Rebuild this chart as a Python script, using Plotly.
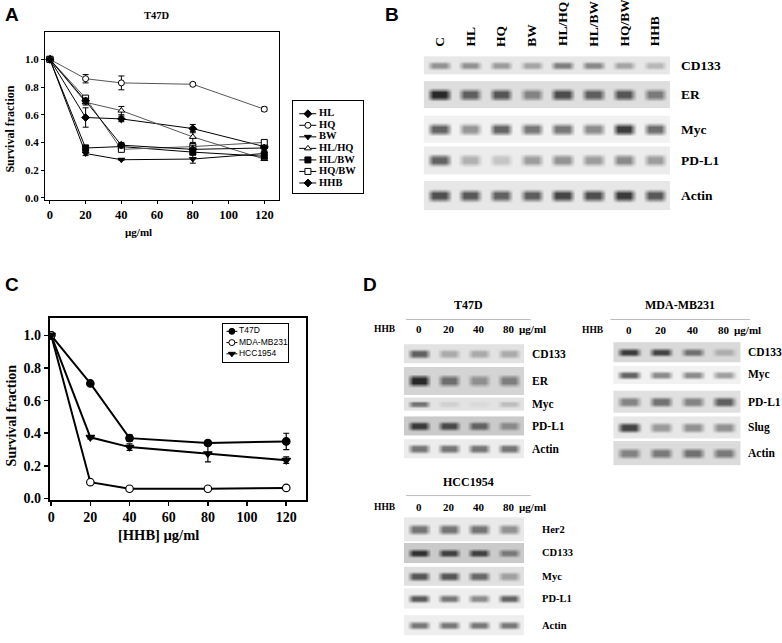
import plotly.graph_objects as go

SERIF = "Liberation Serif"
SANS = "Liberation Sans"

# ---------------- DATA ----------------
doses = [0, 20, 40, 80, 120]

# Panel A (T47D, survival fraction)
a_names = ["HL", "HQ", "BW", "HL/HQ", "HL/BW", "HQ/BW", "HHB"]
a_HL = [1.0, 0.58, 0.57, 0.50, 0.37]
a_HQ = [1.0, 0.86, 0.83, 0.82, 0.64]
a_BW = [1.0, 0.32, 0.275, 0.28, 0.32]
a_HLHQ = [1.0, 0.69, 0.63, 0.44, 0.28]
a_HLBW = [1.0, 0.36, 0.37, 0.33, 0.30]
a_HQBW = [1.0, 0.72, 0.35, 0.37, 0.40]
a_HHB = [1.0, 0.70, 0.38, 0.35, 0.36]
a_HL_err = [0, 0.07, 0.02, 0.03, 0.01]
a_HQ_err = [0, 0.03, 0.05, 0.01, 0.015]
a_BW_err = [0, 0.015, 0.005, 0.03, 0.015]
a_HLHQ_err = [0, 0.02, 0.03, 0.04, 0.01]
a_HLBW_err = [0, 0.02, 0.015, 0.02, 0.015]
a_HQBW_err = [0, 0.015, 0.01, 0.02, 0.015]
a_HHB_err = [0, 0.02, 0.02, 0.03, 0.02]

# Panel C (HHB on three cell lines)
c_names = ["T47D", "MDA-MB231", "HCC1954"]
c_T47D = [1.0, 0.705, 0.37, 0.34, 0.35]
c_MDA = [1.0, 0.10, 0.06, 0.06, 0.065]
c_HCC = [1.0, 0.375, 0.315, 0.275, 0.235]
c_T47D_err = [0, 0.01, 0.02, 0.015, 0.05]
c_MDA_err = [0, 0.005, 0.005, 0.005, 0.005]
c_HCC_err = [0, 0.01, 0.02, 0.05, 0.02]

# Panel B blot (band darkness 0..1 per lane)
b_lanes = ["C", "HL", "HQ", "BW", "HL/HQ", "HL/BW", "HQ/BW", "HHB"]
b_proteins = ["CD133", "ER", "Myc", "PD-L1", "Actin"]
b_bands = [
    [0.45, 0.45, 0.40, 0.35, 0.55, 0.50, 0.35, 0.25],
    [1.00, 0.70, 0.75, 0.50, 0.80, 0.70, 0.75, 0.55],
    [0.70, 0.45, 0.70, 0.60, 0.60, 0.50, 0.90, 0.65],
    [0.70, 0.30, 0.20, 0.40, 0.45, 0.40, 0.50, 0.40],
    [0.80, 0.75, 0.70, 0.72, 0.85, 0.80, 0.90, 0.75],
]
b_bg = [0.10, 0.14, 0.06, 0.08, 0.10]

# Panel D blots
d_doses = ["0", "20", "40", "80"]
d_unit = "µg/ml"
d_t47d_proteins = ["CD133", "ER", "Myc", "PD-L1", "Actin"]
d_t47d_bands = [
    [0.70, 0.30, 0.30, 0.30],
    [1.00, 0.60, 0.40, 0.50],
    [0.60, 0.10, 0.05, 0.20],
    [0.90, 0.80, 0.65, 0.40],
    [0.60, 0.60, 0.60, 0.60],
]
d_t47d_bg = [0.12, 0.18, 0.12, 0.22, 0.08]

d_mda_proteins = ["CD133", "Myc", "PD-L1", "Slug", "Actin"]
d_mda_bands = [
    [0.90, 0.85, 0.60, 0.25],
    [0.70, 0.50, 0.50, 0.40],
    [0.50, 0.60, 0.50, 0.70],
    [0.85, 0.40, 0.45, 0.45],
    [0.50, 0.55, 0.60, 0.55],
]
d_mda_bg = [0.16, 0.06, 0.13, 0.10, 0.15]

d_hcc_proteins = ["Her2", "CD133", "Myc", "PD-L1", "Actin"]
d_hcc_bands = [
    [0.60, 0.60, 0.60, 0.45],
    [0.95, 0.85, 0.85, 0.50],
    [0.75, 0.75, 0.65, 0.35],
    [0.75, 0.60, 0.50, 0.70],
    [0.60, 0.60, 0.60, 0.60],
]
d_hcc_bg = [0.09, 0.22, 0.13, 0.07, 0.07]

# ---------------- LAYOUT GEOMETRY (pixels) ----------------
W, H = 782, 643
B_X = (423, 670)
B_STRIPS = [(57, 75), (82, 109), (117, 144), (148, 176), (183, 212)]
T_X = (403, 523)
T_STRIPS = [(348, 367), (371, 399), (402, 415), (421, 440), (444, 463)]
M_X = (613, 740)
M_STRIPS = [(346, 366), (370, 388), (395, 417), (421, 443), (446, 470)]
HC_X = (403, 523)
HC_STRIPS = [(523, 547), (549, 569), (573, 592), (595, 615), (622, 642)]

fig = go.Figure()

def px_dom_x(a, b):
    return [a / W, b / W]

def px_dom_y(top, bottom):
    return [1 - bottom / H, 1 - top / H]

# ---------------- PANEL A ----------------
a_series = [
    (a_HL, a_HL_err, "diamond", "black", "black"),
    (a_HQ, a_HQ_err, "circle", "white", "#555555"),
    (a_BW, a_BW_err, "triangle-down", "black", "black"),
    (a_HLHQ, a_HLHQ_err, "triangle-up", "white", "#555555"),
    (a_HLBW, a_HLBW_err, "square", "black", "black"),
    (a_HQBW, a_HQBW_err, "square", "white", "#555555"),
    (a_HHB, a_HHB_err, "diamond", "black", "black"),
]
for name, (vals, err, sym, fill, lc) in zip(a_names, a_series):
    fig.add_trace(go.Scatter(
        x=doses, y=vals, mode="lines+markers", name=name, xaxis="x", yaxis="y",
        line=dict(color=lc, width=1),
        marker=dict(symbol=sym, size=6, color=fill, line=dict(color="black", width=1)),
        error_y=dict(type="data", array=err, color="black", thickness=1, width=3),
        showlegend=False, hoverinfo="skip"))

# manual legend A
for i, (name, (vals, err, sym, fill, lc)) in enumerate(zip(a_names, a_series)):
    fig.add_trace(go.Scatter(x=[0.086, 0.33], y=[i, i], mode="lines", xaxis="x4", yaxis="y4",
                             line=dict(color="black", width=1), showlegend=False, hoverinfo="skip"))
    fig.add_trace(go.Scatter(x=[0.21], y=[i], mode="markers", xaxis="x4", yaxis="y4",
                             marker=dict(symbol=sym, size=6, color=fill, line=dict(color="black", width=1)),
                             showlegend=False, hoverinfo="skip"))
fig.add_trace(go.Scatter(x=[0.37] * len(a_names), y=list(range(len(a_names))), text=a_names,
                         mode="text", textposition="middle right", xaxis="x4", yaxis="y4",
                         textfont=dict(family=SERIF, size=10.5, color="black", weight="bold"),
                         showlegend=False, hoverinfo="skip"))

# ---------------- PANEL C ----------------
c_series = [
    (c_T47D, c_T47D_err, "circle", "black"),
    (c_MDA, c_MDA_err, "circle", "white"),
    (c_HCC, c_HCC_err, "triangle-down", "black"),
]
for name, (vals, err, sym, fill) in zip(c_names, c_series):
    fig.add_trace(go.Scatter(
        x=doses, y=vals, mode="lines+markers", name=name, xaxis="x2", yaxis="y2",
        line=dict(color="black", width=2),
        marker=dict(symbol=sym, size=7.5, color=fill, line=dict(color="black", width=1.2)),
        error_y=dict(type="data", array=err, color="black", thickness=1.2, width=3),
        showlegend=False, hoverinfo="skip"))

for i, (name, (vals, err, sym, fill)) in enumerate(zip(c_names, c_series)):
    fig.add_trace(go.Scatter(x=[0.046, 0.215], y=[i, i], mode="lines", xaxis="x5", yaxis="y5",
                             line=dict(color="black", width=1), showlegend=False, hoverinfo="skip"))
    fig.add_trace(go.Scatter(x=[0.13], y=[i], mode="markers", xaxis="x5", yaxis="y5",
                             marker=dict(symbol=sym, size=6, color=fill, line=dict(color="black", width=1)),
                             showlegend=False, hoverinfo="skip"))
fig.add_trace(go.Scatter(x=[0.24] * len(c_names), y=list(range(len(c_names))), text=c_names,
                         mode="text", textposition="middle right", xaxis="x5", yaxis="y5",
                         textfont=dict(family=SANS, size=8.5, color="black"),
                         showlegend=False, hoverinfo="skip"))

# ---------------- BLOTS (heatmaps on pixel axes) ----------------
LANE_PROFILE = [0, 1, 1, 1, 0]
ROW_PROFILE = [0, 0, 1, 1, 0, 0]
MAXDARK = 0.9

def add_strip(xr, yr, bands, bg):
    z = []
    for r in ROW_PROFILE:
        row = []
        for b in bands:
            for c in LANE_PROFILE:
                row.append(bg + (MAXDARK - bg) * b * r * c)
        z.append(row)
    ncol = len(bands) * len(LANE_PROFILE)
    dx = (xr[1] - xr[0]) / ncol
    dy = (yr[1] - yr[0]) / len(ROW_PROFILE)
    fig.add_trace(go.Heatmap(
        z=z, x0=xr[0] + dx / 2, dx=dx, y0=yr[0] + dy / 2, dy=dy,
        xaxis="x3", yaxis="y3", zmin=0, zmax=1, zsmooth="best",
        colorscale=[[0, "#ffffff"], [1, "#101010"]], showscale=False, hoverinfo="skip"))

for bands, bg, st in zip(b_bands, b_bg, B_STRIPS):
    add_strip(B_X, st, bands, bg)
for bands, bg, st in zip(d_t47d_bands, d_t47d_bg, T_STRIPS):
    add_strip(T_X, st, bands, bg)
for bands, bg, st in zip(d_mda_bands, d_mda_bg, M_STRIPS):
    add_strip(M_X, st, bands, bg)
for bands, bg, st in zip(d_hcc_bands, d_hcc_bg, HC_STRIPS):
    add_strip(HC_X, st, bands, bg)

# ---------------- ANNOTATIONS ----------------
ann = []
shapes = []

def txt(x, y, s, size, family=SERIF, bold=True, xanchor="center", yanchor="middle", angle=0):
    ann.append(dict(x=x, y=y, xref="x3", yref="y3", text=s, showarrow=False,
                    xanchor=xanchor, yanchor=yanchor, textangle=angle,
                    font=dict(family=family, size=size, color="black",
                              weight="bold" if bold else "normal")))

# panel letters
txt(10, 15, "A", 19, SANS)
txt(391, 15, "B", 19, SANS)
txt(10, 288, "C", 19, SANS)
txt(369, 288, "D", 19, SANS)

# panel A texts
txt(155, 16, "T47D", 10.5)
txt(8, 130, "Survival fraction", 12, angle=-90)
txt(137, 235, "µg/ml", 11)

# panel C texts
txt(9, 420, "Survival fraction", 14, angle=-90)
txt(157, 541, "[HHB] µg/ml", 14.5)

# panel B lane labels and protein labels
nB = len(b_lanes)
for i, lab in enumerate(b_lanes):
    cx = B_X[0] + (i + 0.5) * (B_X[1] - B_X[0]) / nB
    txt(cx, 49, lab, 13.5, angle=-90, yanchor="bottom")
for lab, st in zip(b_proteins, B_STRIPS):
    txt(679, (st[0] + st[1]) / 2, lab, 13.5, xanchor="left")

# panel D blocks
def d_block(title, title_xy, line_x, line_y, header_y, hhb_x, xr, strips, proteins, lab_x, lab_size, unit_x):
    txt(title_xy[0], title_xy[1], title, 12)
    shapes.append(dict(type="line", xref="x3", yref="y3", x0=line_x[0], x1=line_x[1],
                       y0=line_y, y1=line_y, line=dict(color="#bbbbbb", width=1)))
    txt(hhb_x, header_y, "HHB", 9.5)
    n = len(d_doses)
    for i, d in enumerate(d_doses):
        cx = xr[0] + (i + 0.5) * (xr[1] - xr[0]) / n
        txt(cx, header_y, d, 11)
    txt(unit_x, header_y, d_unit, 11, xanchor="left")
    for lab, st in zip(proteins, strips):
        txt(lab_x, (st[0] + st[1]) / 2, lab, lab_size, xanchor="left")

d_block("T47D", (468, 308), (405, 530), 323, 333, 384, T_X, T_STRIPS, d_t47d_proteins, 529, 11.5, 516)
d_block("MDA-MB231", (680, 308), (610, 750), 323, 334, 593, M_X, M_STRIPS, d_mda_proteins, 746, 11.5, 732)
d_block("HCC1954", (468, 487), (405, 530), 501, 513, 384, HC_X, HC_STRIPS, d_hcc_proteins, 539, 10.5, 516)

# ---------------- AXES ----------------
tickA_y = dict(family=SERIF, size=11, color="black", weight="bold")
tickA_x = dict(family=SERIF, size=12.5, color="black", weight="bold")
tickC = dict(family=SERIF, size=14, color="black", weight="bold")

fig.update_layout(
    width=W, height=H, margin=dict(l=0, r=0, t=0, b=0),
    paper_bgcolor="white", plot_bgcolor="rgba(0,0,0,0)",
    showlegend=False, hovermode=False,
    annotations=ann, shapes=shapes,
    xaxis=dict(domain=px_dom_x(43, 278), range=[-2.8, 128.4], tickvals=[0, 20, 40, 60, 80, 100, 120],
               ticks="outside", ticklen=3, tickwidth=1, tickcolor="black",
               showline=True, linecolor="black", linewidth=1, mirror=True,
               showgrid=False, zeroline=False, tickfont=tickA_x, anchor="y"),
    yaxis=dict(domain=px_dom_y(32, 202), range=[-0.0143, 1.2],
               tickvals=[0, 0.2, 0.4, 0.6, 0.8, 1.0], ticktext=["0.0", "0.2", "0.4", "0.6", "0.8", "1.0"],
               ticks="outside", ticklen=3, tickwidth=1, tickcolor="black",
               showline=True, linecolor="black", linewidth=1, mirror=True,
               showgrid=False, zeroline=False, tickfont=tickA_y, anchor="x"),
    xaxis2=dict(domain=px_dom_x(48, 305), range=[-0.66, 130.2], tickvals=[0, 20, 40, 60, 80, 100, 120],
                ticks="outside", ticklen=4, tickwidth=1.5, tickcolor="black",
                showline=True, linecolor="black", linewidth=2, mirror=True,
                showgrid=False, zeroline=False, tickfont=tickC, anchor="y2"),
    yaxis2=dict(domain=px_dom_y(322, 505), range=[-0.006, 1.103],
                tickvals=[0, 0.2, 0.4, 0.6, 0.8, 1.0], ticktext=["0.0", "0.2", "0.4", "0.6", "0.8", "1.0"],
                ticks="outside", ticklen=4, tickwidth=1.5, tickcolor="black",
                showline=True, linecolor="black", linewidth=2, mirror=True,
                showgrid=False, zeroline=False, tickfont=tickC, anchor="x2"),
    xaxis3=dict(domain=[0, 1], range=[0, W], visible=False, anchor="y3"),
    yaxis3=dict(domain=[0, 1], range=[H, 0], visible=False, anchor="x3"),
    xaxis4=dict(domain=px_dom_x(292, 362), range=[0, 1], showticklabels=False, ticks="",
                showline=True, linecolor="black", linewidth=1, mirror=True,
                showgrid=False, zeroline=False, anchor="y4"),
    yaxis4=dict(domain=px_dom_y(102, 195), range=[6.857, -1.114], showticklabels=False, ticks="",
                showline=True, linecolor="black", linewidth=1, mirror=True,
                showgrid=False, zeroline=False, anchor="x4"),
    xaxis5=dict(domain=px_dom_x(222, 287), range=[0, 1], showticklabels=False, ticks="",
                showline=True, linecolor="black", linewidth=1, mirror=True,
                showgrid=False, zeroline=False, anchor="y5"),
    yaxis5=dict(domain=px_dom_y(328, 366), range=[2.73, -0.617], showticklabels=False, ticks="",
                showline=True, linecolor="black", linewidth=1, mirror=True,
                showgrid=False, zeroline=False, anchor="x5"),
)

fig.write_html("out.html", config={"displayModeBar": False, "staticPlot": True},
               post_script="document.body.style.margin='0';")
